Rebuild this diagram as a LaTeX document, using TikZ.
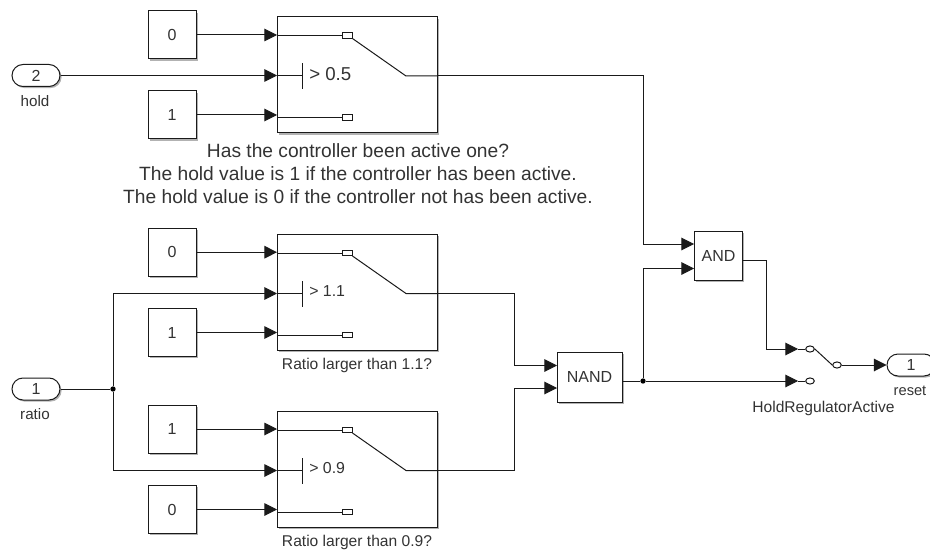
\documentclass[tikz,border=0pt]{standalone}
\usepackage{fontspec}
\setmainfont{Liberation Sans}
\usetikzlibrary{arrows.meta,shadows,shapes.misc,shapes.geometric}
\definecolor{ink}{HTML}{1A1A1A}
\definecolor{txt}{HTML}{333333}
\tikzset{
  shade1/.style={drop shadow={shadow xshift=1.2pt,shadow yshift=-1.2pt,opacity=.3,fill=black}},
  blk/.style={draw=ink,line width=.75pt,fill=white,shade1,inner sep=0pt,text=txt,font=\fontsize{12}{14}\selectfont},
  konst/.style={blk,minimum width=36pt,minimum height=36pt},
  logic/.style={blk,minimum width=36pt,minimum height=37pt},
  swbox/.style={blk,minimum width=120pt,minimum height=87pt},
  port/.style={blk,rounded rectangle,minimum width=36pt,minimum height=16.5pt},
  lbl/.style={inner sep=0pt,text=txt,font=\fontsize{11.7}{13}\selectfont},
  sig/.style={draw=ink,line width=.75pt,-{Triangle[length=9.5pt,width=9.5pt]}},
  wire/.style={draw=ink,line width=.75pt},
  contact/.style={draw=ink,line width=.75pt,fill=white,inner sep=0pt,minimum width=7.5pt,minimum height=3.8pt},
  ring/.style={draw=ink,line width=.75pt,fill=white,ellipse,inner sep=0pt,minimum width=6.5pt,minimum height=4.6pt},
  dot/.style={fill=black,circle,inner sep=0pt,minimum size=4pt}
}
\newcommand{\swblock}[4]{%
  \node[swbox] (#1) at (357,#2+58) {};
  \coordinate (#1a) at (277,#2+18);
  \coordinate (#1b) at (277,#2+59);
  \coordinate (#1c) at (277,#2+100);
  \coordinate (#1o) at (437,#2+59);
  \coordinate (#1p) at (406,#2+59);
  \node[contact] (#1t) at (347,#2+18.5) {};
  \node[contact] (#1u) at (347,#2+100.5) {};
  \coordinate (#1bar) at (302,#2+59);
  \path[wire] (#1a |- #1t) -- (#1t.west);
  \path[wire] (#1c |- #1u) -- (#1u.west);
  \path[wire] (#1b) -- (#1bar);
  \path[wire] (302,#2+46.5) -- (302,#2+72);
  \path[wire] (#1t.south east) -- (#1p) -- (#1o);
  \node[lbl,anchor=west,font=\fontsize{#4}{14}\selectfont] at (309,#2+57) {#3};
}
\begin{document}
\begin{tikzpicture}[x=.75pt,y=-.75pt]
\useasboundingbox (0,0) rectangle (930,552);
\clip (0,0) rectangle (930,552);
% constants
\node[konst] (k1) at (172,35) {0};
\node[konst] (k2) at (172,115) {1};
\node[konst] (k3) at (172,252.2) {0};
\node[konst] (k4) at (172,332.5) {1};
\node[konst] (k5) at (172,429) {1};
\node[konst] (k6) at (172,509.5) {0};
% inports
\node[port] (hold) at (36,75.5) {2};
\node[lbl,font=\fontsize{11.4}{13}\selectfont] (holdl) at (35,101) {hold};
\node[port] (ratio) at (36,389) {1};
\node[lbl,font=\fontsize{11.4}{13}\selectfont] (ratiol) at (35,414) {ratio};
% switches
\swblock{sa}{17}{> 0.5}{14}
\swblock{sb}{234.5}{> 1.1}{11.9}
\swblock{sc}{411.5}{> 0.9}{11.9}
% annotations
\node[lbl,align=center,font=\fontsize{14.4}{17.3}\selectfont] (note) at (358,174) {Has the controller been active one?\\The hold value is 1 if the controller has been active.\\The hold value is 0 if the controller not has been active.};
\node[lbl] (nb) at (357,365) {Ratio larger than 1.1?};
\node[lbl] (nc) at (357,542) {Ratio larger than 0.9?};
% logic
\node[logic,minimum width=48.75pt,minimum height=37.5pt] (nand) at (589.5,377) {NAND};
\node[logic] (and) at (718.5,256) {AND};
\coordinate (nand1) at (557,365.5);
\coordinate (nand2) at (557,388);
\coordinate (and1) at (694,244);
\coordinate (and2) at (694,268.5);
% output switch
\node[ring] (r1) at (810,349) {};
\node[ring] (r2) at (810,381) {};
\node[ring] (r3) at (837,365) {};
\coordinate (i1) at (798,349);
\coordinate (i2) at (798,381);
\node[port] (res) at (911,365) {1};
\node[lbl,font=\fontsize{11}{13}\selectfont] (resl) at (910,391) {reset};
\node[lbl] (hra) at (823.5,408) {HoldRegulatorActive};
% junctions
\node[dot] (ja) at (113,389) {};
\node[dot] (jb) at (643,381) {};
% constant inputs
\draw[sig] (k1.east) -- (saa |- k1.east);
\draw[sig] (k2.east) -- (sac |- k2.east);
\draw[sig] (k3.east) -- (sba |- k3.east);
\draw[sig] (k4.east) -- (sbc |- k4.east);
\draw[sig] (k5.east) -- (sca |- k5.east);
\draw[sig] (k6.east) -- (scc |- k6.east);
% control inputs
\draw[sig] (hold.east) -- (sab |- hold.east);
\draw[wire] (ratio.east) -- (ja);
\draw[sig] (ja) |- (sbb);
\draw[sig] (ja) |- (scb);
% to logic
\draw[sig] (sao) -| (643,244) -- (and1);
\draw[sig] (sbo) -| (514,365.5) -- (nand1);
\draw[sig] (sco) -| (514,388) -- (nand2);
\draw[wire] (nand.east |- jb) -- (jb);
\draw[sig] (jb) |- (and2);
\draw[sig] (jb) -- (i2);
\draw[sig] (and.east |- 0,260) -| (766,349) -- (i1);
% output switch links
\draw[wire] (i1) -- (r1.west);
\draw[wire] (i2) -- (r2.west);
\draw[wire] (r1.east) -- (r3.west);
\draw[sig] (r3.east) -- (res.west);
\end{tikzpicture}
\end{document}
